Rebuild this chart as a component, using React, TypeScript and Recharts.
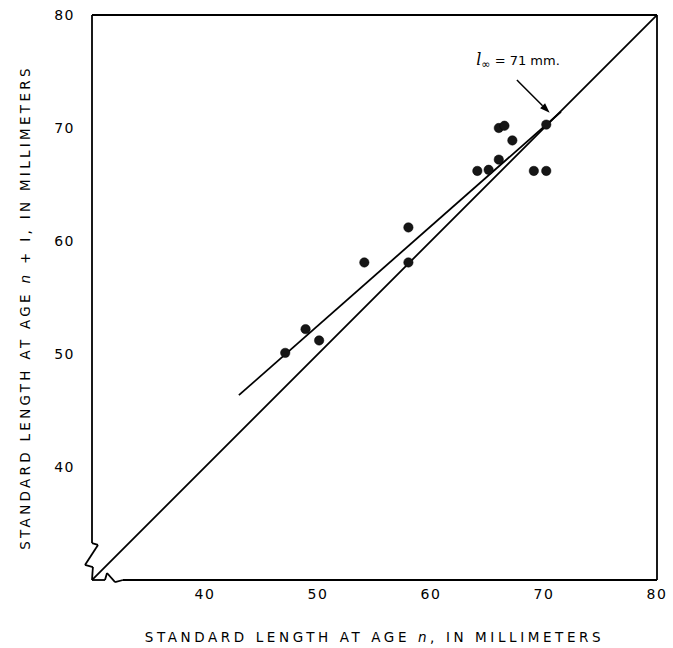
import React from 'react';
import { ScatterChart, Scatter, XAxis, YAxis, ReferenceLine, ReferenceDot, Label } from 'recharts';

// Observed pairs: standard length at age n (x) and at age n+1 (y), mm
const lengthAtAgeN = [47.1, 48.9, 50.1, 54.1, 58.0, 58.0, 64.1, 65.1, 66.0, 66.0, 66.5, 67.2, 69.1, 70.2, 70.2];
const lengthAtAgeN1 = [50.1, 52.2, 51.2, 58.1, 61.2, 58.1, 66.2, 66.3, 67.2, 70.0, 70.2, 68.9, 66.2, 66.2, 70.3];

const xTicks = [40, 50, 60, 70, 80];
const yTicks = [40, 50, 60, 70, 80];

// Walford line and 45-degree line
const regressionX = [43, 71.5];
const regressionY = [46.36, 71.44];
const equalityX = [30, 80];
const equalityY = [30, 80];

// annotation l∞ = 71 mm
const annotationText = '= 71 mm.';
const annotationAt = { x: 67.7, y: 75.6 };
const arrowFrom = { x: 67.6, y: 74.25 };
const arrowTo = { x: 70.5, y: 71.35 };

// frame with broken-scale marks near origin (data coordinates)
const leftAxisPath = [
  { x: 30, y: 80 }, { x: 30, y: 33.27 }, { x: 30.53, y: 33.1 }, { x: 29.38, y: 31.33 },
  { x: 30.08, y: 31.15 }, { x: 30, y: 30 },
];
const bottomAxisPath = [
  { x: 30, y: 30 }, { x: 31.15, y: 30 }, { x: 31.33, y: 30.62 }, { x: 32.04, y: 29.82 },
  { x: 32.74, y: 30 }, { x: 80, y: 30 },
];
const topAxisPath = [{ x: 30, y: 80 }, { x: 80, y: 80 }];
const rightAxisPath = [{ x: 80, y: 80 }, { x: 80, y: 30 }];

const points = lengthAtAgeN.map((x, i) => ({ x, y: lengthAtAgeN1[i] }));
const regression = regressionX.map((x, i) => ({ x, y: regressionY[i] }));
const equality = equalityX.map((x, i) => ({ x, y: equalityY[i] }));

const toSegments = (p: { x: number; y: number }[]) =>
  p.slice(1).map((q, i) => [p[i], q] as [{ x: number; y: number }, { x: number; y: number }]);

const frameSegments = [
  ...toSegments(leftAxisPath),
  ...toSegments(bottomAxisPath),
  ...toSegments(topAxisPath),
  ...toSegments(rightAxisPath),
];

const FONT = '"DejaVu Sans", "Liberation Sans", Arial, sans-serif';

const Dot = (props: any) => {
  const { cx, cy } = props;
  if (cx == null || cy == null) return <g />;
  return <circle cx={cx} cy={cy} r={4.7} fill="#161616" stroke="#000" strokeWidth={0.5} />;
};

const NoShape = () => <g />;

const Arrow = (props: any) => {
  const { x1, y1, x2, y2 } = props;
  if (x1 == null) return <g />;
  const ang = Math.atan2(y2 - y1, x2 - x1);
  const L = 10;
  const W = 3.5;
  const bx = x2 - L * Math.cos(ang);
  const by = y2 - L * Math.sin(ang);
  const px = -Math.sin(ang) * W;
  const py = Math.cos(ang) * W;
  return (
    <g>
      <line x1={x1} y1={y1} x2={bx} y2={by} stroke="#000" strokeWidth={1.5} />
      <polygon points={`${x2},${y2} ${bx + px},${by + py} ${bx - px},${by - py}`} fill="#000" />
    </g>
  );
};

const AnnotationShape = (props: any) => {
  const { cx, cy } = props;
  if (cx == null) return <g />;
  return (
    <text x={cx} y={cy} textAnchor="middle" fontFamily={FONT} fontSize={13} fill="#000">
      <tspan fontStyle="italic" fontFamily='"DejaVu Serif", serif' fontSize={16}>l</tspan>
      <tspan fontSize={11} dy={3}>∞</tspan>
      <tspan dy={-3}> {annotationText}</tspan>
    </text>
  );
};

const XTitle = (props: any) => {
  const vb = props.viewBox || {};
  const cx = vb.x + vb.width / 2;
  return (
    <text x={cx} y={vb.y + 62} textAnchor="middle" fontFamily={FONT} fontSize={13.5} letterSpacing={3.6} fill="#000">
      STANDARD LENGTH AT AGE <tspan fontStyle="italic">n</tspan>, IN MILLIMETERS
    </text>
  );
};

const YTitle = (props: any) => {
  const vb = props.viewBox || {};
  const cx = 30;
  const cy = vb.y + vb.height / 2 + 10;
  return (
    <text x={cx} y={cy} transform={`rotate(-90 ${cx} ${cy})`} textAnchor="middle" fontFamily={FONT} fontSize={13.5} letterSpacing={3.3} fill="#000">
      STANDARD LENGTH AT AGE <tspan fontStyle="italic">n</tspan> + I, IN MILLIMETERS
    </text>
  );
};

export default function App() {
  return (
    <div style={{ position: 'absolute', left: 0, top: 0, background: '#fff' }}>
      <ScatterChart width={673} height={648} margin={{ top: 15, right: 16, left: 32, bottom: 38 }}>
        <XAxis
          type="number"
          dataKey="x"
          domain={[30, 80]}
          ticks={xTicks}
          axisLine={false}
          tickLine={false}
          tickMargin={3}
          height={30}
          tick={{ fill: '#000', fontSize: 14, fontFamily: FONT, letterSpacing: 1.5 }}
          allowDataOverflow
          label={<Label content={<XTitle />} />}
        />
        <YAxis
          type="number"
          dataKey="y"
          domain={[30, 80]}
          ticks={yTicks}
          axisLine={false}
          tickLine={false}
          tickMargin={11}
          width={60}
          tick={{ fill: '#000', fontSize: 14, fontFamily: FONT, letterSpacing: 1.5 }}
          allowDataOverflow
          label={<Label content={<YTitle />} />}
        />
        {frameSegments.map((s, i) => (
          <ReferenceLine key={'f' + i} segment={s} stroke="#000" strokeWidth={1.8} ifOverflow="visible" />
        ))}
        <Scatter data={equality} line={{ stroke: '#000', strokeWidth: 1.8 }} shape={NoShape} isAnimationActive={false} legendType="none" />
        <Scatter data={regression} line={{ stroke: '#000', strokeWidth: 1.8 }} shape={NoShape} isAnimationActive={false} legendType="none" />
        <Scatter data={points} shape={<Dot />} isAnimationActive={false} legendType="none" />
        <ReferenceLine segment={[arrowFrom, arrowTo]} shape={<Arrow />} ifOverflow="visible" />
        <ReferenceDot x={annotationAt.x} y={annotationAt.y} r={0} shape={<AnnotationShape />} ifOverflow="visible" />
      </ScatterChart>
    </div>
  );
}
